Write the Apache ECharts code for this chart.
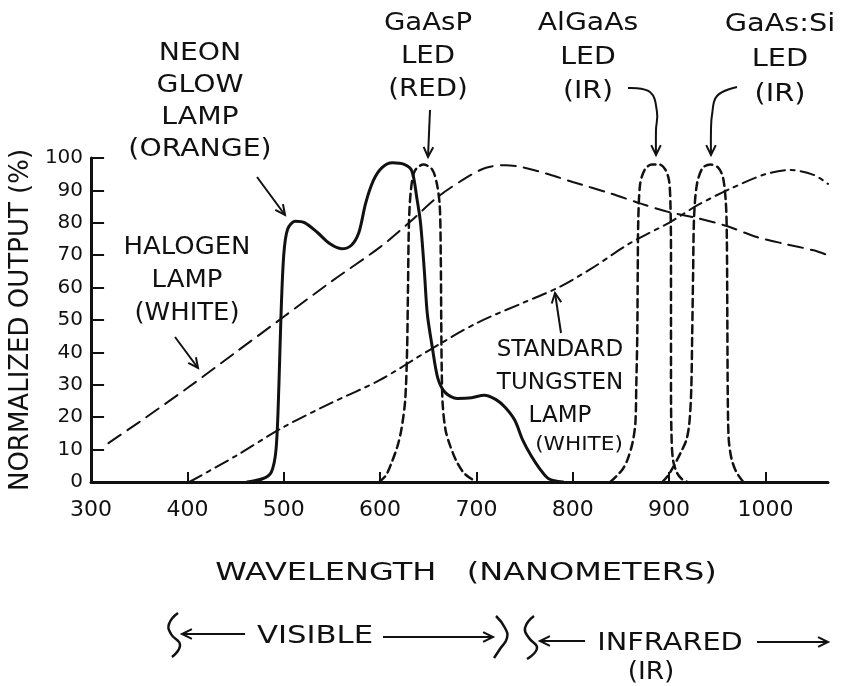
<!DOCTYPE html>
<html>
<head>
<meta charset="utf-8">
<title>Light source spectral output</title>
<script src="https://cdn.jsdelivr.net/npm/echarts@6/dist/echarts.min.js"></script>
<style>
  html, body { margin: 0; padding: 0; background: #fff; }
  #chart { width: 850px; height: 686px; }
</style>
</head>
<body>
<div id="chart"></div>
<script>
// wavelength (nm) -> normalized output (%)
const xTicks = [300, 400, 500, 600, 700, 800, 900, 1000]
const yTicks = [0, 10, 20, 30, 40, 50, 60, 70, 80, 90, 100]

const neonLamp = [[462, 0], [478, 1], [487, 3], [492, 10], [495, 30], [497, 50], [500, 70], [504, 78], [512, 80.5],
  [522, 80], [535, 77], [548, 73.5], [560, 72], [570, 73], [578, 77], [585, 86], [593, 93], [602, 97], [613, 98.5],
  [625, 98], [633, 96], [638, 88], [642, 80], [646, 65], [649, 52], [654, 42], [660, 32], [668, 27.5], [680, 25.8],
  [695, 26], [708, 26.8], [720, 25.5], [730, 23], [740, 19], [748, 13], [757, 8], [766, 4], [775, 1], [790, 0]]

const halogenLamp = [[318, 12], [350, 18.5], [400, 29], [450, 40], [500, 51], [550, 62], [600, 72.5], [630, 80],
  [660, 88], [690, 94], [710, 97], [730, 97.8], [750, 97], [775, 95], [800, 92.6], [840, 89], [870, 86], [900, 83.3],
  [930, 81.4], [960, 79], [990, 75.7], [1020, 73.5], [1050, 71.5], [1065, 70]]

const tungstenLamp = [[402, 0], [450, 8], [500, 17], [550, 24.5], [600, 31.5], [650, 40.5], [700, 49], [750, 55.5],
  [785, 60], [820, 66], [860, 73.8], [900, 80], [930, 85.5], [965, 90.7], [1000, 95], [1026, 96.3], [1050, 94.8], [1065, 92]]

const gaAsPLed = [[599, 0], [606, 2], [612, 6], [618, 11], [622, 16], [626, 25], [628, 40], [629, 60], [630, 80],
  [632, 90], [636, 96], [645, 98], [654, 96.5], [659, 92], [662, 85], [663, 70], [663.5, 50], [664, 35], [665, 24],
  [668, 16], [673, 11], [680, 6], [688, 2.5], [700, 0]]

const alGaAsLed = [[839, 0], [846, 2], [852, 4], [857, 7], [862, 12], [865, 18], [866, 30], [867, 45], [867.5, 65],
  [868, 80], [870, 92], [875, 96.5], [882, 98], [890, 98], [896, 96.5], [900, 93], [901.5, 85], [902, 70], [902, 50],
  [902, 30], [902.5, 15], [904, 7], [908, 3], [913, 1], [919, 0]]

const gaAsSiLed = [[893, 0], [899, 2], [905, 5], [912, 9], [918, 13], [921, 18], [923, 28], [924, 45], [925, 65],
  [926, 82], [929, 92], [935, 97], [943, 98], [951, 97], [956, 94], [959, 86], [960, 75], [960.5, 50], [961, 25],
  [962, 13], [965, 7], [970, 3], [977, 0]]

const ink = '#111'
const fontFamily = 'DejaVu Sans'

function label(str, x, y, size, sx, lh) {
  return {
    type: 'text', x, y, scaleX: sx, z: 10,
    style: { text: str, fill: ink, fontSize: size, fontFamily, align: 'center', verticalAlign: 'middle', lineHeight: lh },
  }
}

function arrow(pts, smooth) {
  const [x1, y1] = pts[pts.length - 2]
  const [x2, y2] = pts[pts.length - 1]
  const a = Math.atan2(y2 - y1, x2 - x1)
  const len = 11, w = 0.45
  const head = [
    [x2 - len * Math.cos(a - w), y2 - len * Math.sin(a - w)],
    [x2, y2],
    [x2 - len * Math.cos(a + w), y2 - len * Math.sin(a + w)],
  ]
  return [
    { type: 'polyline', z: 10, shape: { points: pts, smooth: smooth || 0 }, style: { stroke: ink, lineWidth: 2, fill: null } },
    { type: 'polyline', z: 10, shape: { points: head }, style: { stroke: ink, lineWidth: 2, fill: null } },
  ]
}

function squiggle(pts) {
  return { type: 'polyline', z: 10, shape: { points: pts, smooth: 0.5 }, style: { stroke: ink, lineWidth: 2.5, fill: null } }
}

function curve(name, data, dash, width, smooth) {
  return {
    name, type: 'line', data, smooth, showSymbol: false, symbol: 'none',
    lineStyle: { color: ink, width, type: dash, cap: 'round' },
  }
}

const chart = echarts.init(document.getElementById('chart'))

const option = {
  backgroundColor: '#fff',
  animation: false,
  grid: { left: 89, right: 22, top: 158, bottom: 204 },
  xAxis: {
    type: 'value', min: 300, max: 1065,
    axisLine: { lineStyle: { color: ink, width: 3 } },
    axisTick: { inside: true, length: 10, customValues: xTicks, lineStyle: { color: ink, width: 2 } },
    axisLabel: { customValues: xTicks, formatter: v => String(v), margin: 17, color: ink, fontSize: 22, fontFamily },
    splitLine: { show: false },
  },
  yAxis: {
    type: 'value', min: 0, max: 100,
    name: 'NORMALIZED OUTPUT (%)', nameLocation: 'middle', nameRotate: 90, nameGap: 52,
    nameTextStyle: { color: ink, fontSize: 26, fontFamily },
    axisLine: { show: true, lineStyle: { color: ink, width: 3 } },
    axisTick: { show: true, inside: true, length: 13, customValues: yTicks, lineStyle: { color: ink, width: 2 } },
    axisLabel: { customValues: yTicks, margin: 8, color: ink, fontSize: 20, fontFamily },
    splitLine: { show: false },
  },
  series: [
    curve('Neon glow lamp (orange)', neonLamp, 'solid', 3, 0.3),
    curve('Halogen lamp (white)', halogenLamp, [15, 8], 2, 0.3),
    curve('Standard tungsten lamp (white)', tungstenLamp, [14, 6, 4, 6], 2, 0.3),
    curve('GaAsP LED (red)', gaAsPLed, [8, 5], 2.5, 0.3),
    curve('AlGaAs LED (IR)', alGaAsLed, [8, 5], 2.5, 0.3),
    curve('GaAs:Si LED (IR)', gaAsSiLed, [8, 5], 2.5, 0.3),
  ],
  graphic: [
    label('NEON\nGLOW\nLAMP\n(ORANGE)', 200, 102, 24, 1.18, 32),
    label('HALOGEN\nLAMP\n(WHITE)', 187, 281, 24, 1.08, 33),
    label('GaAsP\nLED\n(RED)', 428, 57, 24, 1.15, 33),
    label('AlGaAs\nLED\n(IR)', 588, 58, 24, 1.18, 34),
    label('GaAs:Si\nLED\n(IR)', 780, 60, 24, 1.2, 35),
    label('STANDARD\nTUNGSTEN\nLAMP', 560, 383, 23, 1.0, 33),
    label('(WHITE)', 579, 445, 20, 1.08, 22),
    label('WAVELENGTH   (NANOMETERS)', 466, 573, 25, 1.28, 30),
    label('VISIBLE', 315, 637, 24, 1.28, 30),
    label('INFRARED', 670, 644, 24, 1.2, 30),
    label('(IR)', 651, 673, 24, 1.1, 30),
    ...arrow([[257, 177], [285, 215]]),
    ...arrow([[175, 337], [198, 368]]),
    ...arrow([[430, 110], [428, 157]]),
    ...arrow([[628, 88], [650, 92], [657, 112], [656, 130], [656, 155]], 0.4),
    ...arrow([[737, 87], [717, 96], [712, 115], [711, 130], [711, 155]], 0.4),
    ...arrow([[561, 333], [555, 293]]),
    ...arrow([[245, 634], [182, 634]]),
    ...arrow([[383, 637], [493, 637]]),
    ...arrow([[585, 641], [540, 641]]),
    ...arrow([[757, 642], [828, 642]]),
    squiggle([[178, 613], [169, 624], [171, 634], [180, 645], [172, 657]]),
    squiggle([[496, 616], [505, 628], [507, 638], [500, 649], [494, 658]]),
    squiggle([[534, 616], [525, 628], [529, 638], [537, 648], [527, 659]]),
  ],
}

chart.setOption(option)
window.addEventListener('resize', () => {
  chart.resize()
})
</script>
</body>
</html>
